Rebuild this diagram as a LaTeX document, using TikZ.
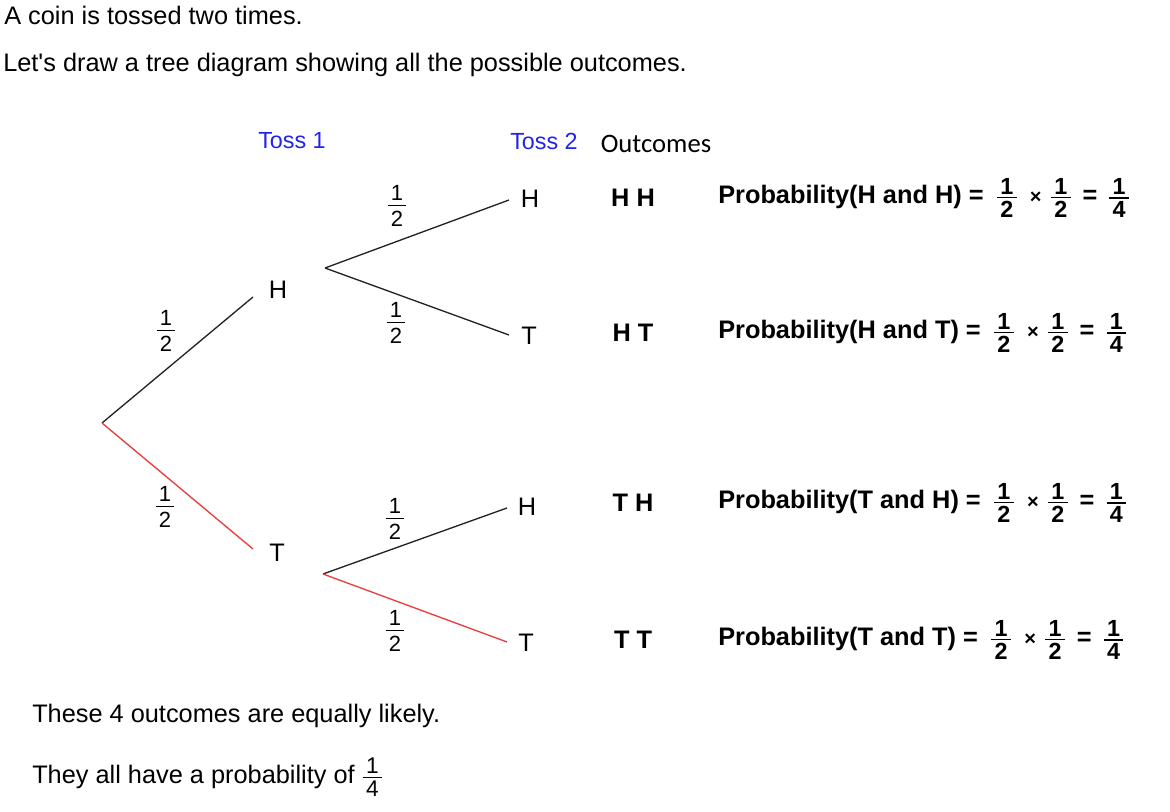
\documentclass[tikz,border=0pt]{standalone}
\usepackage{fontspec}
\setmainfont{Liberation Sans}[Ligatures=TeXOff]
\newfontfamily\calibri{Carlito}
\usetikzlibrary{positioning}

\definecolor{tossblue}{RGB}{35,35,235}
\definecolor{pathred}{RGB}{235,60,60}
\definecolor{branchgray}{RGB}{35,35,35}

% stacked fraction in the current text font
\newcommand{\frc}[3][2pt]{\ensuremath{\vcenter{\offinterlineskip
  \halign{\hfil\kern2.5pt##\kern2.5pt\hfil\cr #2\cr
    \noalign{\kern#1\hrule height 0.9pt\kern#1}#3\cr}}}}

\tikzset{
  title/.style={anchor=base west, inner sep=0pt, font=\fontsize{19}{23}\selectfont},
  tosslabel/.style={text=tossblue, font=\fontsize{17.5}{21}\selectfont},
  coin/.style={font=\fontsize{19}{23}\selectfont},
  prob/.style={inner sep=0pt, font=\fontsize{16.5}{20}\selectfont},
  outcome/.style={font=\bfseries\fontsize{19}{23}\selectfont},
  probline/.style={anchor=west, inner sep=0pt, font=\bfseries\fontsize{19}{23}\selectfont},
  branch/.style={branchgray, line width=1pt},
  redbranch/.style={pathred, line width=1pt},
}

\begin{document}
\begin{tikzpicture}[x=0.75pt, y=-0.75pt]
    \useasboundingbox (0,0) rectangle (1170,812);

    % Text above
    \node[title] (intro) at (4,25) {A coin is tossed two times.};
    \node[title] (task) at (3,72) {Let's draw a tree diagram showing all the possible outcomes.};

    % Headings
    \node[tosslabel] (toss1) at (292,141) {Toss 1};
    \node[tosslabel] (toss2) at (544,141) {Toss 2};
    \node[font=\calibri\fontsize{20}{24}\selectfont] (outcomes) at (656,144) {Outcomes};

    % Branch points
    \coordinate (root) at (102,423);
    \coordinate (hend) at (253,297);
    \coordinate (tend) at (253,549);
    \coordinate (hfork) at (325,268);
    \coordinate (tfork) at (323,574);
    \coordinate (hhend) at (509,200);
    \coordinate (htend) at (509,335);
    \coordinate (thend) at (507,508);
    \coordinate (ttend) at (507,642);

    % Coin faces
    \node[coin] (h1) at (278,290) {H};
    \node[coin] (t1) at (277,553) {T};
    \node[coin] (hh) at (530,199) {H};
    \node[coin] (ht) at (529,336) {T};
    \node[coin] (th) at (527,507) {H};
    \node[coin] (tt) at (526,643) {T};

    % Branches
    \draw[branch] (root) -- (hend);
    \draw[redbranch] (root) -- (tend);
    \draw[branch] (hfork) -- (hhend);
    \draw[branch] (hfork) -- (htend);
    \draw[branch] (tfork) -- (thend);
    \draw[redbranch] (tfork) -- (ttend);

    % Branch probabilities
    \node[prob] (ph1) at (166,331) {\frc[3.5pt]{1}{2}};
    \node[prob] (pt1) at (165,507) {\frc[3.5pt]{1}{2}};
    \node[prob] (phh) at (397,206) {\frc[3.5pt]{1}{2}};
    \node[prob] (pht) at (396,323) {\frc[3.5pt]{1}{2}};
    \node[prob] (pth) at (395,519) {\frc[3.5pt]{1}{2}};
    \node[prob] (ptt) at (395,631) {\frc[3.5pt]{1}{2}};

    % Outcomes and their probabilities
    \foreach \y/\a/\b in {198/H/H, 333/H/T, 503/T/H, 640/T/T} {
        \node[outcome] (out\a\b) at (633,\y) {\a\ \b};
        \node[probline] (prob\a\b) at (718,\y) {Probability(\a\ and \b) =\hspace{10pt}{\fontsize{17.5}{20}\selectfont\frc[2pt]{1}{2}}\hspace{10pt}{\fontsize{15}{18}\selectfont ×}\hspace{7pt}{\fontsize{17.5}{20}\selectfont\frc[2pt]{1}{2}}\hspace{9pt}=\hspace{9pt}{\fontsize{17.5}{20}\selectfont\frc[2pt]{1}{4}}};
    }

    % Text below
    \node[title] (likely) at (32,722) {These 4 outcomes are equally likely.};
    \node[title] (all) at (32,783) {They all have a probability of\hspace{6pt}{\fontsize{17}{20}\selectfont\frc[2.5pt]{1}{4}}};
\end{tikzpicture}
\end{document}
